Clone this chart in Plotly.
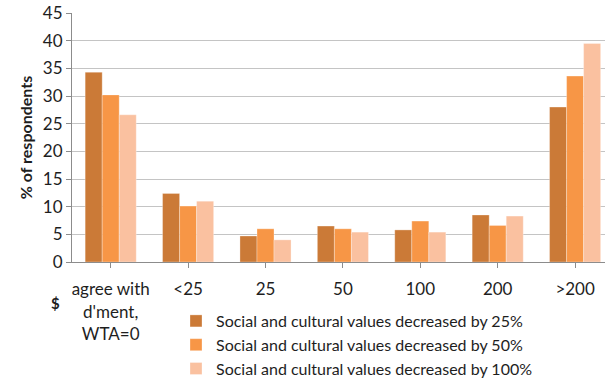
import plotly.graph_objects as go

categories = ["agree with<br>d'ment,<br>WTA=0", "<25", "25", "50", "100", "200", ">200"]
series_names = [
    "Social and cultural values decreased by 25%",
    "Social and cultural values decreased by 50%",
    "Social and cultural values decreased by 100%",
]
decreased_25 = [34.3, 12.4, 4.7, 6.5, 5.8, 8.5, 28.0]
decreased_50 = [30.2, 10.1, 6.0, 6.0, 7.4, 6.6, 33.6]
decreased_100 = [26.6, 11.0, 4.0, 5.4, 5.4, 8.3, 39.5]
y_ticks = [0, 5, 10, 15, 20, 25, 30, 35, 40, 45]

colors = ["#CB7A37", "#F79646", "#FAC1A0"]
FONT = "Lato, Open Sans, sans-serif"
W, H = 605, 379
L, T, B = 72, 13, 117
PW, PH = W - L, H - T - B

fig = go.Figure()
for name, vals, col in zip(series_names, [decreased_25, decreased_50, decreased_100], colors):
    fig.add_trace(go.Bar(
        x=list(range(len(categories))), y=vals, name=name,
        marker=dict(color=col, line=dict(color="rgba(255,255,255,0.5)", width=0.6)),
    ))

fig.update_layout(
    width=W, height=H,
    margin=dict(l=L, r=0, t=T, b=B, autoexpand=False),
    paper_bgcolor="white", plot_bgcolor="white",
    barmode="group", bargap=0.34, bargroupgap=0,
    font=dict(family=FONT, size=16, color="#1e1e1e"),
    showlegend=True,
    legend=dict(
        x=(176 - L) / PW, y=(H - B - 304) / PH, xanchor="left", yanchor="top",
        font=dict(size=16, family=FONT, color="#1e1e1e"),
        bgcolor="rgba(0,0,0,0)", traceorder="normal",
        itemwidth=30, tracegroupgap=0,
    ),
    xaxis=dict(
        tickmode="array", tickvals=list(range(len(categories))), ticktext=categories,
        range=[-0.5, -0.5 + PW / 77.4],
        showline=True, linecolor="#8c8c8c", linewidth=1,
        ticks="outside", tickson="boundaries", ticklen=5, tickcolor="#8c8c8c",
        ticklabelstandoff=7,
        tickfont=dict(size=17),
        showgrid=False, zeroline=False, automargin=False,
    ),
    yaxis=dict(
        range=[0, 45], tickvals=y_ticks,
        showline=True, linecolor="#8c8c8c", linewidth=1,
        ticks="outside", ticklen=5, tickcolor="#8c8c8c",
        showgrid=True, gridcolor="#c4c4c4", gridwidth=1.2,
        zeroline=False, automargin=False,
        title=dict(text="<b>% of respondents</b>", font=dict(size=16), standoff=6),
        tickfont=dict(size=17),
    ),
)

# "$" marker to the left of the category labels (figure px -> plot-area fractions)
fig.add_annotation(
    text="<b>$</b>", x=(55 - L) / PW, y=(H - B - 303) / PH,
    xref="paper", yref="paper", xanchor="center", yanchor="middle",
    showarrow=False, font=dict(size=15),
)

fig.write_html("out.html")
